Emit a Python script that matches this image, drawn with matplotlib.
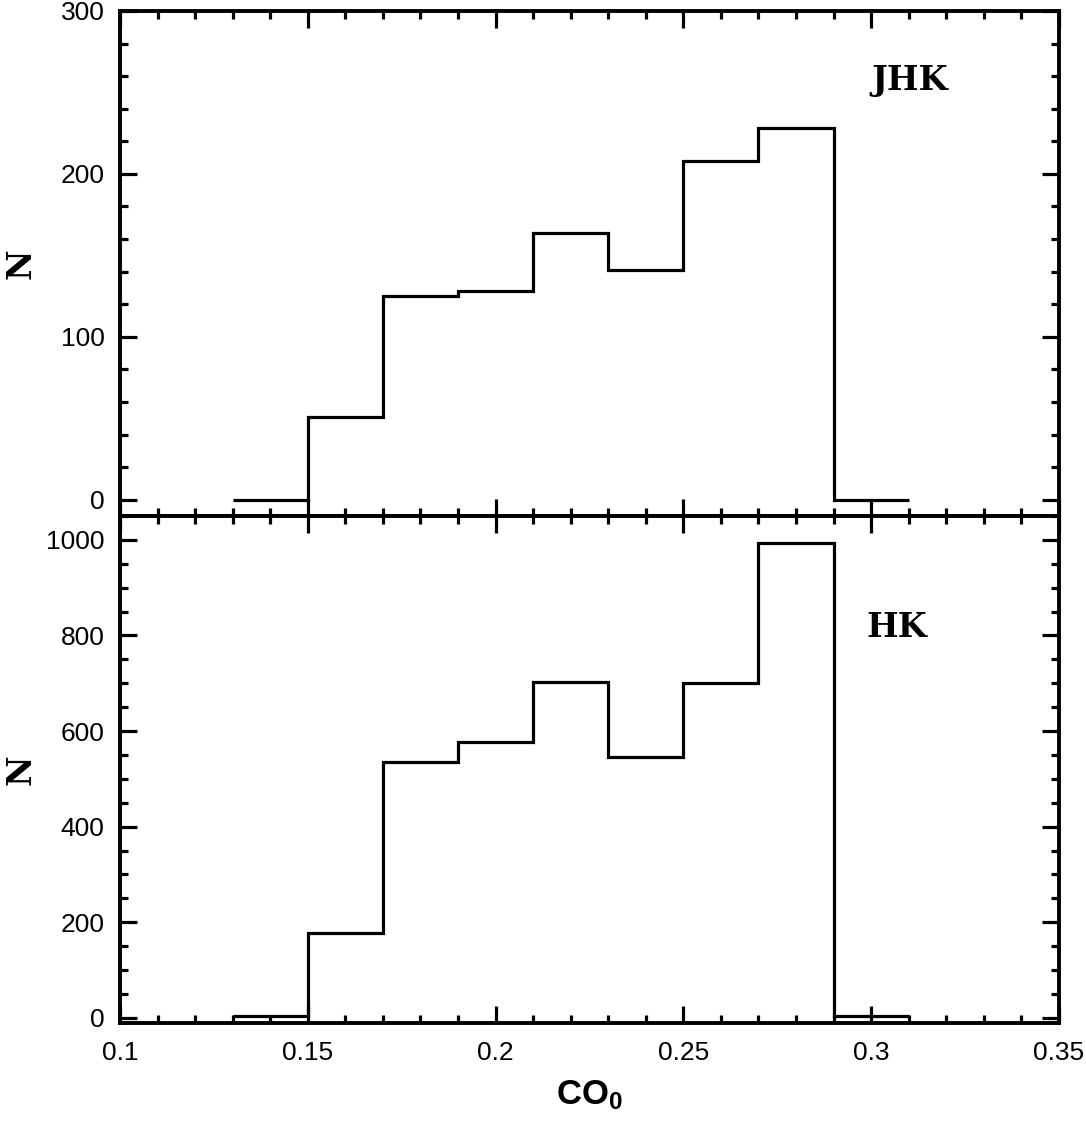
import numpy as np
import matplotlib
matplotlib.use("Agg")
import matplotlib.pyplot as plt
from matplotlib.ticker import MultipleLocator

plt.rcParams['font.family'] = ['Liberation Sans', 'DejaVu Sans']
plt.rcParams['mathtext.fontset'] = 'custom'
plt.rcParams['mathtext.rm'] = 'Liberation Sans'
plt.rcParams['mathtext.bf'] = 'Liberation Sans:bold'

# --- data ---
bin_edges = [0.13, 0.15, 0.17, 0.19, 0.21, 0.23, 0.25, 0.27, 0.29, 0.31]
counts_jhk = [0, 51, 125, 128, 164, 141, 208, 228, 0]
counts_hk = [3, 177, 535, 577, 703, 546, 701, 994, 3]

panels = [
    ("JHK", counts_jhk, (-10, 300), 100, 20),
    ("HK", counts_hk, (-10, 1050), 200, 50),
]

fig = plt.figure(figsize=(10.86, 11.29), dpi=100)
ax_top = fig.add_axes([0.1105, 0.5430, 0.8646, 0.4473])
ax_bot = fig.add_axes([0.1105, 0.0942, 0.8646, 0.4488], sharex=ax_top)
label_pos = [(0.800, 0.863), (0.795, 0.779)]

for ax, (name, counts, ylim, major, minor), (tx, ty) in zip([ax_top, ax_bot], panels, label_pos):
    ax.stairs(counts, bin_edges, color='black', linewidth=2.3, baseline=None)
    ax.set_xlim(0.1, 0.35)
    ax.set_ylim(*ylim)
    ax.xaxis.set_major_locator(MultipleLocator(0.05))
    ax.xaxis.set_minor_locator(MultipleLocator(0.01))
    ax.yaxis.set_major_locator(MultipleLocator(major))
    ax.yaxis.set_minor_locator(MultipleLocator(minor))
    ax.tick_params(which='both', direction='in', top=True, right=True,
                   width=2.3, labelsize=19)
    ax.tick_params(axis='y', pad=11)
    ax.tick_params(axis='x', pad=13)
    ax.tick_params(which='major', length=12)
    ax.tick_params(which='minor', length=6)
    for sp in ax.spines.values():
        sp.set_linewidth(2.8)
    ax.set_ylabel("N", family='DejaVu Serif', fontweight='bold', fontsize=24)
    ax.yaxis.set_label_coords(-0.088, 0.5)
    ax.text(tx, ty, name, transform=ax.transAxes, family='DejaVu Serif',
            fontweight='bold', fontsize=24, ha='left', va='center')

ax_top.tick_params(labelbottom=False)
ax_bot.xaxis.set_major_formatter(plt.FuncFormatter(lambda v, p: f"{v:g}"))
ax_bot.set_xlabel(r"$\mathbf{CO_0}$", fontsize=25, labelpad=10)

fig.savefig("out.png", dpi=100)
